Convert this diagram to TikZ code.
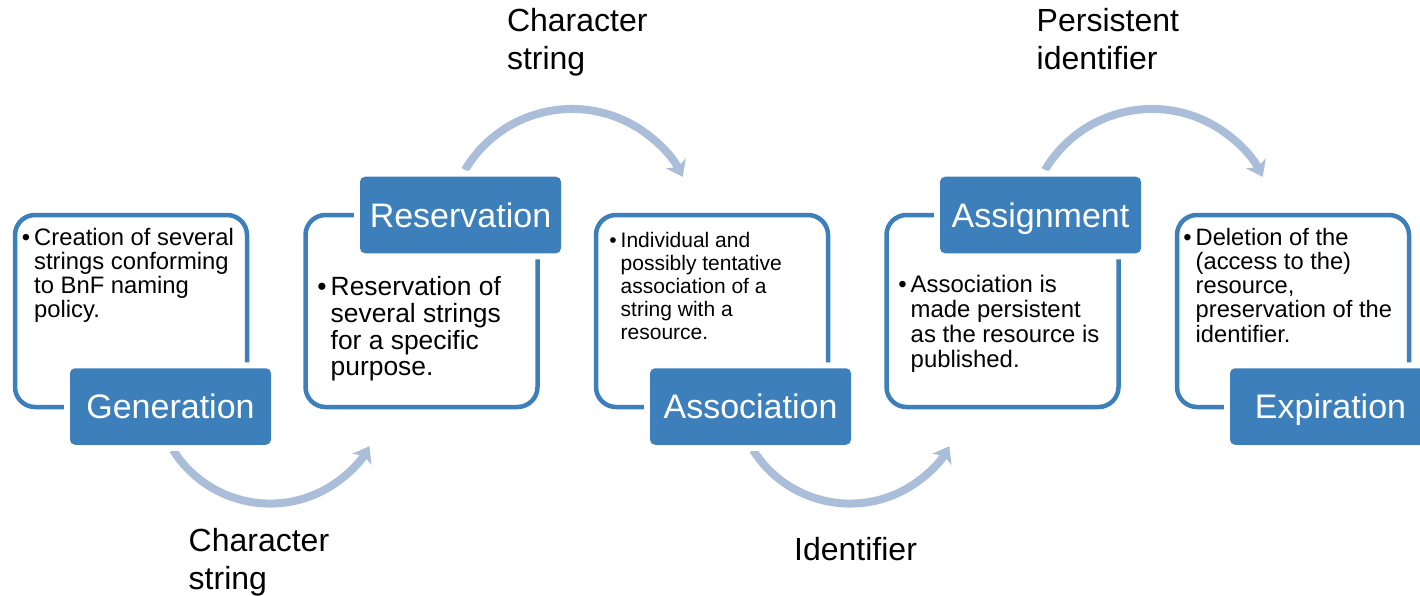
\documentclass[tikz,border=0pt]{standalone}
\usepackage{fontspec}
\setmainfont{Liberation Sans}
\usetikzlibrary{arrows.meta}
\definecolor{boxblue}{RGB}{60,127,186}
\definecolor{arrowblue}{RGB}{170,190,218}
\begin{document}
\begin{tikzpicture}[x=1pt,y=-1pt,
  stageframe/.style={draw=boxblue, line width=4.5pt, rounded corners=20pt,
    minimum width=232pt, minimum height=192pt, inner sep=0pt},
  stage/.style={fill=boxblue, rounded corners=5pt, minimum width=201pt,
    minimum height=76.5pt, inner sep=0pt, text=white,
    font=\fontsize{34}{40}\selectfont, text height=24.3pt, text depth=0pt,
    preaction={draw=white, line width=12pt}},
  desc/.style={anchor=north west, inner sep=0pt, align=left},
  flow/.style={draw=arrowblue, line width=8pt,
    -{Stealth[length=15pt,width=22pt,inset=4pt]}},
  lbl/.style={anchor=north west, inner sep=0pt, align=left,
    font=\fontsize{32}{38}\selectfont}]
\useasboundingbox (0,0) rectangle (1420,596);
\clip (0,0) rectangle (1420,596);

% arrows
\coordinate (a1s) at (173,450);
\coordinate (a2s) at (465,170);
\coordinate (a3s) at (753,450);
\coordinate (a4s) at (1045,170);
\draw[flow] (a1s) arc[start angle=147.8, end angle=30, radius=114.7];
\draw[flow] (a2s) arc[start angle=-149.4, end angle=-27, radius=124.3];
\draw[flow] (a3s) arc[start angle=147.8, end angle=30, radius=114.7];
\draw[flow] (a4s) arc[start angle=-149.4, end angle=-27, radius=124.3];

% frames
\node[stageframe] (genframe) at (131,311) {};
\node[stageframe] (resframe) at (421.5,311) {};
\node[stageframe] (assframe) at (712,311) {};
\node[stageframe] (asgframe) at (1002.5,311) {};
\node[stageframe] (expframe) at (1293,311) {};

% stage labels
\node[stage] (gen) at (170.5,406.5) {Generation};
\node[stage] (res) at (460.5,215) {Reservation};
\node[stage] (ass) at (750.5,406.5) {Association};
\node[stage] (asg) at (1040.5,215) {Assignment};
\node[stage] (exp) at (1330.5,406.5) {Expiration};

% descriptions
\node[desc, font=\fontsize{23.8}{24}\selectfont] (gentext) at (34,228)
  {\llap{•\hspace{4pt}}Creation of several\\strings conforming\\to BnF naming\\policy.};
\node[desc, font=\fontsize{26.4}{26.7}\selectfont] (restext) at (330.5,276.5)
  {\llap{•\hspace{4pt}}Reservation of\\several strings\\for a specific\\purpose.};
\node[desc, font=\fontsize{21}{22.9}\selectfont] (asstext) at (620.5,232)
  {\llap{•\hspace{4pt}}Individual and\\possibly tentative\\association of a\\string with a\\resource.};
\node[desc, font=\fontsize{23.9}{25}\selectfont] (asgtext) at (910.5,275)
  {\llap{•\hspace{4pt}}Association is\\made persistent\\as the resource is\\published.};
\node[desc, font=\fontsize{23.7}{24.2}\selectfont] (exptext) at (1195.5,228)
  {\llap{•\hspace{4pt}}Deletion of the\\(access to the)\\resource,\\preservation of the\\identifier.};

% arrow labels
\node[lbl] (l1) at (188.5,528) {Character\\string};
\node[lbl] (l2) at (506.8,7.7) {Character\\string};
\node[lbl] (l3) at (794,536.7) {Identifier};
\node[lbl] (l4) at (1036.5,8) {Persistent\\identifier};
\end{tikzpicture}
\end{document}
